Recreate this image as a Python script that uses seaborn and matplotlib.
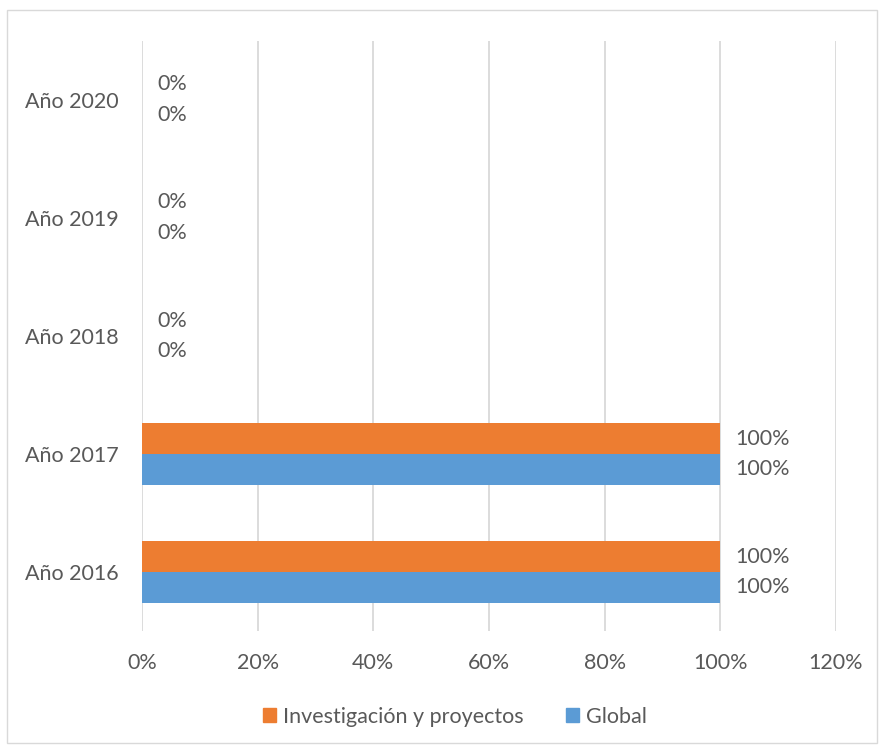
import pandas as pd
import matplotlib.pyplot as plt
import seaborn as sns
from matplotlib.ticker import PercentFormatter
from matplotlib.patches import Rectangle

# Datos
anios = ['Año 2020', 'Año 2019', 'Año 2018', 'Año 2017', 'Año 2016']
investigacion = [0.0, 0.0, 0.0, 1.0, 1.0]
global_ = [0.0, 0.0, 0.0, 1.0, 1.0]
series = ['Investigación y proyectos', 'Global']
colores = ['#ED7D31', '#5B9BD5']

df = pd.DataFrame({
    'anio': anios * 2,
    'valor': investigacion + global_,
    'serie': [series[0]] * len(anios) + [series[1]] * len(anios),
})

sns.set_theme(style='white')
plt.rcParams['font.family'] = ['Lato', 'DejaVu Sans']
texto = '#595959'
fs = 15.5

fig = plt.figure(figsize=(8.8, 7.45), dpi=100)
ax = fig.add_axes([0.1614, 0.153, 0.7886, 0.792])

sns.barplot(data=df, y='anio', x='valor', hue='serie', order=anios,
            hue_order=series, palette=colores, orient='h', width=0.525,
            saturation=1, linewidth=0, ax=ax, legend=False)

for cont in ax.containers:
    ax.bar_label(cont, labels=[f'{v:.0%}' for v in cont.datavalues],
                 padding=11, fontsize=fs, color=texto)

ax.set_xlim(0, 1.2)
ax.set_xticks([0, 0.2, 0.4, 0.6, 0.8, 1.0, 1.2])
ax.xaxis.set_major_formatter(PercentFormatter(1.0, decimals=0))
ax.grid(axis='x', color='#d9d9d9', linewidth=1.3)
ax.set_axisbelow(True)
for s in ax.spines.values():
    s.set_visible(False)
ax.tick_params(axis='both', length=0, labelsize=fs, labelcolor=texto)
ax.tick_params(axis='y', pad=17)
ax.tick_params(axis='x', pad=16)
ax.set_xlabel('')
ax.set_ylabel('')

# Leyenda
handles = [Rectangle((0, 0), 1, 1, color=c) for c in colores]
fig.legend(handles, series, loc='center', bbox_to_anchor=(0.517, 0.038), ncol=2,
           frameon=False, fontsize=fs, labelcolor=texto, handlelength=0.6,
           handleheight=0.6, handletextpad=0.3, columnspacing=2.0)

# Borde del gráfico
fig.add_artist(Rectangle((0.008, 0.003), 0.989, 0.983, transform=fig.transFigure,
                         fill=False, edgecolor='#d9d9d9', linewidth=1))

plt.savefig('out.png', dpi=100)
plt.close()
